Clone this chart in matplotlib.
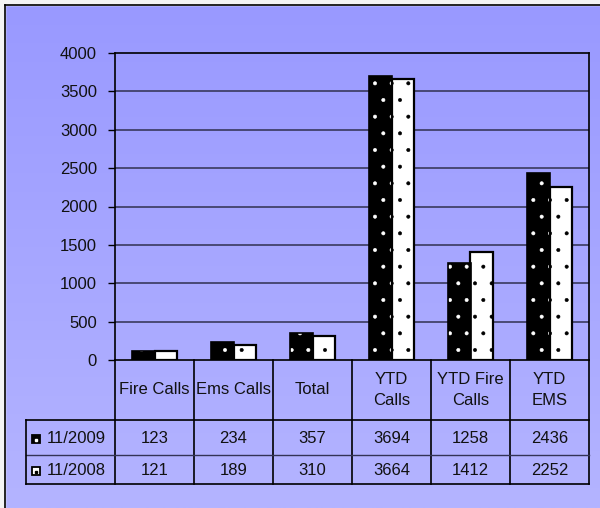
import numpy as np
import matplotlib.pyplot as plt
from matplotlib.patches import Rectangle

plt.rcParams['font.family'] = ['Liberation Sans', 'DejaVu Sans']
plt.rcParams['hatch.linewidth'] = 0.4

# data
categories = ["Fire Calls", "Ems Calls", "Total", "YTD\nCalls", "YTD Fire\nCalls", "YTD\nEMS"]
series_names = ["11/2009", "11/2008"]
vals_2009 = [123, 234, 357, 3694, 1258, 2436]
vals_2008 = [121, 189, 310, 3664, 1412, 2252]
yticks = [0, 500, 1000, 1500, 2000, 2500, 3000, 3500, 4000]

W, H = 600, 508
fig = plt.figure(figsize=(W / 100, H / 100), dpi=100)

# background in pixel coords
bg = fig.add_axes([0, 0, 1, 1])
bg.set_xlim(0, W)
bg.set_ylim(H, 0)
bg.axis('off')
grad = np.linspace(0, 1, 256).reshape(-1, 1)
c_top = np.array([0x99, 0x99, 0xFF]) / 255
c_bot = np.array([0xB4, 0xB4, 0xFF]) / 255
img = c_top + grad[..., None] * (c_bot - c_top)
bg.imshow(img, extent=[5, W, H, 5], aspect='auto', zorder=0)
bg.add_patch(Rectangle((0, 0), W, 5, color='#f4f4f4', zorder=1))
bg.add_patch(Rectangle((0, 0), 5, H, color='#f4f4f4', zorder=1))
bg.plot([5, W], [5, 5], color='black', lw=1.2, zorder=2)
bg.plot([5, 5], [5, H], color='black', lw=1.2, zorder=2)

# plot area
px_l, px_t, px_r, px_b = 115, 53, 589, 360
ax = fig.add_axes([px_l / W, 1 - px_b / H, (px_r - px_l) / W, (px_b - px_t) / H])
ax.patch.set_alpha(0)
n = len(categories)
ax.set_xlim(-0.5, n - 0.5)
ax.set_ylim(0, 4000)
ax.set_yticks(yticks)
ax.set_yticklabels([str(t) for t in yticks], fontsize=12, color='#111111')
ax.tick_params(axis='y', length=5, width=1, pad=8)
ax.set_xticks([])
for y in yticks[1:-1]:
    ax.axhline(y, color='#303050', lw=1.1, zorder=1)
for s in ax.spines.values():
    s.set_color('black')
    s.set_linewidth(1.2)

x = np.arange(n)
bw = 0.29
ax.bar(x - bw / 2, vals_2009, bw, color='black', edgecolor='white', hatch='.', lw=0, zorder=3)
ax.bar(x - bw / 2, vals_2009, bw, fill=False, edgecolor='black', lw=1.2, zorder=4)
ax.bar(x + bw / 2, vals_2008, bw, color='white', edgecolor='black', hatch='.', lw=0, zorder=3)
ax.bar(x + bw / 2, vals_2008, bw, fill=False, edgecolor='black', lw=1.6, zorder=4)

# data table below the axis
col_w = (px_r - px_l) / n
edges = [px_l + i * col_w for i in range(n + 1)]
y_head, y_r1, y_r2, y_bot = 360, 420, 455, 484
lk = dict(color='black', lw=1.2, zorder=3)
for e in edges:
    bg.plot([e, e], [y_head, y_bot], **lk)
bg.plot([26, px_r], [y_r1, y_r1], **lk)
bg.plot([26, px_r], [y_r2, y_r2], color='#333355', lw=1.0, zorder=3)
bg.plot([26, px_r], [y_bot, y_bot], **lk)
bg.plot([26, 26], [y_r1, y_bot], **lk)

tk = dict(fontsize=12, color='#111111', ha='center', va='center', zorder=4)
for i, cat in enumerate(categories):
    cx = (edges[i] + edges[i + 1]) / 2
    bg.text(cx, (y_head + y_r1) / 2, cat, linespacing=1.55, **tk)
    bg.text(cx, (y_r1 + y_r2) / 2 + 1, str(vals_2009[i]), **tk)
    bg.text(cx, (y_r2 + y_bot) / 2 + 1, str(vals_2008[i]), **tk)

for k, (name, fc, dc) in enumerate(zip(series_names, ['black', 'white'], ['white', 'black'])):
    cy = [(y_r1 + y_r2) / 2 + 1, (y_r2 + y_bot) / 2 + 1][k]
    bg.add_patch(Rectangle((32, cy - 4), 8, 8, facecolor=fc, edgecolor='black', lw=1.3, zorder=4))
    bg.plot([36], [cy + 1], marker='s', ms=1.8, color=dc, mec=dc, zorder=5)
    bg.text(47, cy, name, fontsize=12, color='#111111', ha='left', va='center', zorder=4)

fig.savefig('out.png', dpi=100)
